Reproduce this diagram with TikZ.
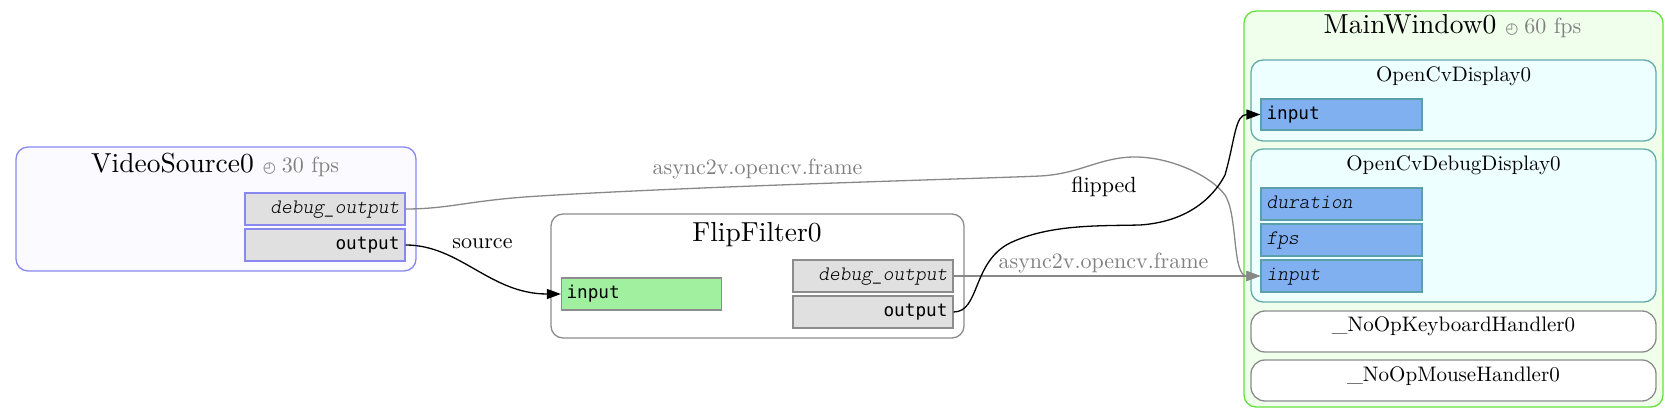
\documentclass[tikz,border=0pt]{standalone}
\usepackage{fontspec}
\setmainfont{lmroman10-regular.otf}[ItalicFont=lmroman10-italic.otf, BoldFont=lmroman10-bold.otf]
\newfontfamily\portfont{DejaVu Sans Mono}
\newfontfamily\itportfont{lmmonolt10-oblique.otf}
\newfontfamily\symfont{DejaVu Sans}
\usetikzlibrary{arrows.meta}
\definecolor{vsfill}{RGB}{250,250,255}
\definecolor{vsdraw}{RGB}{136,136,240}
\definecolor{portgray}{RGB}{224,224,224}
\definecolor{ffdraw}{RGB}{140,140,140}
\definecolor{portgreen}{RGB}{160,240,160}
\definecolor{mwfill}{RGB}{240,255,235}
\definecolor{mwdraw}{RGB}{100,225,60}
\definecolor{ocfill}{RGB}{238,255,255}
\definecolor{ocdraw}{RGB}{100,170,170}
\definecolor{portblue}{RGB}{128,176,240}
\definecolor{portbluedraw}{RGB}{90,160,170}
\definecolor{edgegray}{RGB}{136,136,136}
\definecolor{labelgray}{RGB}{128,128,128}
\begin{document}
\begin{tikzpicture}[x=1pt,y=-1pt,
  cluster/.style={draw, rounded corners=12, line width=1.3, inner sep=0},
  handler/.style={draw=ffdraw, fill=white, rounded corners=14, line width=1.3, inner sep=0, minimum width=405, minimum height=41},
  title/.style={anchor=base, inner sep=0, font=\fontsize{27.5}{30}\selectfont},
  subtitle/.style={anchor=base, inner sep=0, font=\fontsize{21}{24}\selectfont},
  port/.style={draw, line width=1.2, inner sep=0, minimum width=160, minimum height=32, text height=13, text depth=3.5, font=\portfont\fontsize{17.7}{20}\selectfont},
  itport/.style={port, font=\itportfont\fontsize{20.5}{22}\selectfont},
  pright/.style={text width=149, align=right},
  pleft/.style={text width=150, align=left},
  elabel/.style={anchor=base, inner sep=0, font=\fontsize{22}{24}\selectfont},
  gedge/.style={draw=edgegray, line width=1.3, -{Triangle[length=14,width=10]}},
  bedge/.style={draw=black, line width=1.3, -{Triangle[length=14,width=10]}},
]
\useasboundingbox (0,0) rectangle (1679,419);

% VideoSource0
\node[cluster, draw=vsdraw, fill=vsfill, minimum width=400, minimum height=124] (vs) at (216,209) {};
\node[title] (vst) at (215,173) {VideoSource0\hspace{9pt}{\color{labelgray}{\symfont\fontsize{15}{16}\selectfont ◴}\hspace{6pt}{\rmfamily\fontsize{22}{24}\selectfont 30 fps}}};
\node[itport, pright, draw=vsdraw, fill=portgray] (vsdbg) at (325,209) {debug\_output};
\node[port, pright, draw=vsdraw, fill=portgray] (vsout) at (325,245) {output};

% FlipFilter0
\node[cluster, draw=ffdraw, fill=white, minimum width=413, minimum height=124] (ff) at (757.5,276) {};
\node[title] (fft) at (757,242) {FlipFilter0};
\node[port, pleft, draw=ffdraw, fill=portgreen] (ffin) at (641.5,294) {input};
\node[itport, pright, draw=ffdraw, fill=portgray] (ffdbg) at (873,276) {debug\_output};
\node[port, pright, draw=ffdraw, fill=portgray] (ffout) at (873,312) {output};

% MainWindow0
\node[cluster, draw=mwdraw, fill=mwfill, minimum width=419, minimum height=396] (mw) at (1453.5,209) {};
\node[title] (mwt) at (1452.5,34) {MainWindow0\hspace{9pt}{\color{labelgray}{\symfont\fontsize{15}{16}\selectfont ◴}\hspace{6pt}{\rmfamily\fontsize{22}{24}\selectfont 60 fps}}};

\node[cluster, draw=ocdraw, fill=ocfill, minimum width=405, minimum height=81] (ocd) at (1453.5,100.5) {};
\node[subtitle] (ocdt) at (1453.5,82) {OpenCvDisplay0};
\node[port, pleft, draw=portbluedraw, fill=portblue, minimum width=161, minimum height=31] (ocdin) at (1341.5,114.5) {input};

\node[cluster, draw=ocdraw, fill=ocfill, minimum width=405, minimum height=153] (ocdd) at (1453.5,225.5) {};
\node[subtitle] (ocddt) at (1453.5,171) {OpenCvDebugDisplay0};
\node[itport, pleft, draw=portbluedraw, fill=portblue, minimum width=161] (ocdddur) at (1341.5,204) {duration};
\node[itport, pleft, draw=portbluedraw, fill=portblue, minimum width=161] (ocddfps) at (1341.5,240) {fps};
\node[itport, pleft, draw=portbluedraw, fill=portblue, minimum width=161] (ocddin) at (1341.5,276) {input};

\node[handler] (kb) at (1453.5,331.5) {};
\node[subtitle] (kbt) at (1453.5,332) {\_NoOpKeyboardHandler0};
\node[handler] (ms) at (1453.5,380.5) {};
\node[subtitle] (mst) at (1453.5,382) {\_NoOpMouseHandler0};

% edges
\draw[gedge] (vsdbg.east) .. controls (450,209) and (470,200) .. (540,196)
  .. controls (700,186) and (1000,178) .. (1040,176)
  .. controls (1080,174) and (1100,157) .. (1135,157)
  .. controls (1170,157) and (1210,175) .. (1225,195)
  .. controls (1238,215) and (1232,276) .. (ocddin.west);
\node[elabel, text=labelgray] (l1) at (757.5,175) {async2v.opencv.frame};

\draw[bedge] (vsout.east) .. controls (460,245) and (490,294) .. (ffin.west);
\node[elabel] (l2) at (482.5,249) {source};

\draw[gedge] (ffdbg.east) -- (ocddin.west);
\node[elabel, text=labelgray] (l3) at (1103.5,269) {async2v.opencv.frame};

\draw[bedge] (ffout.east) .. controls (980,312) and (972,262) .. (1010,243)
  .. controls (1050,224) and (1100,226) .. (1140,225)
  .. controls (1185,222) and (1212,200) .. (1225,175)
  .. controls (1235,140) and (1235,114.5) .. (ocdin.west);
\node[elabel] (l4) at (1104,193) {flipped};
\end{tikzpicture}
\end{document}
